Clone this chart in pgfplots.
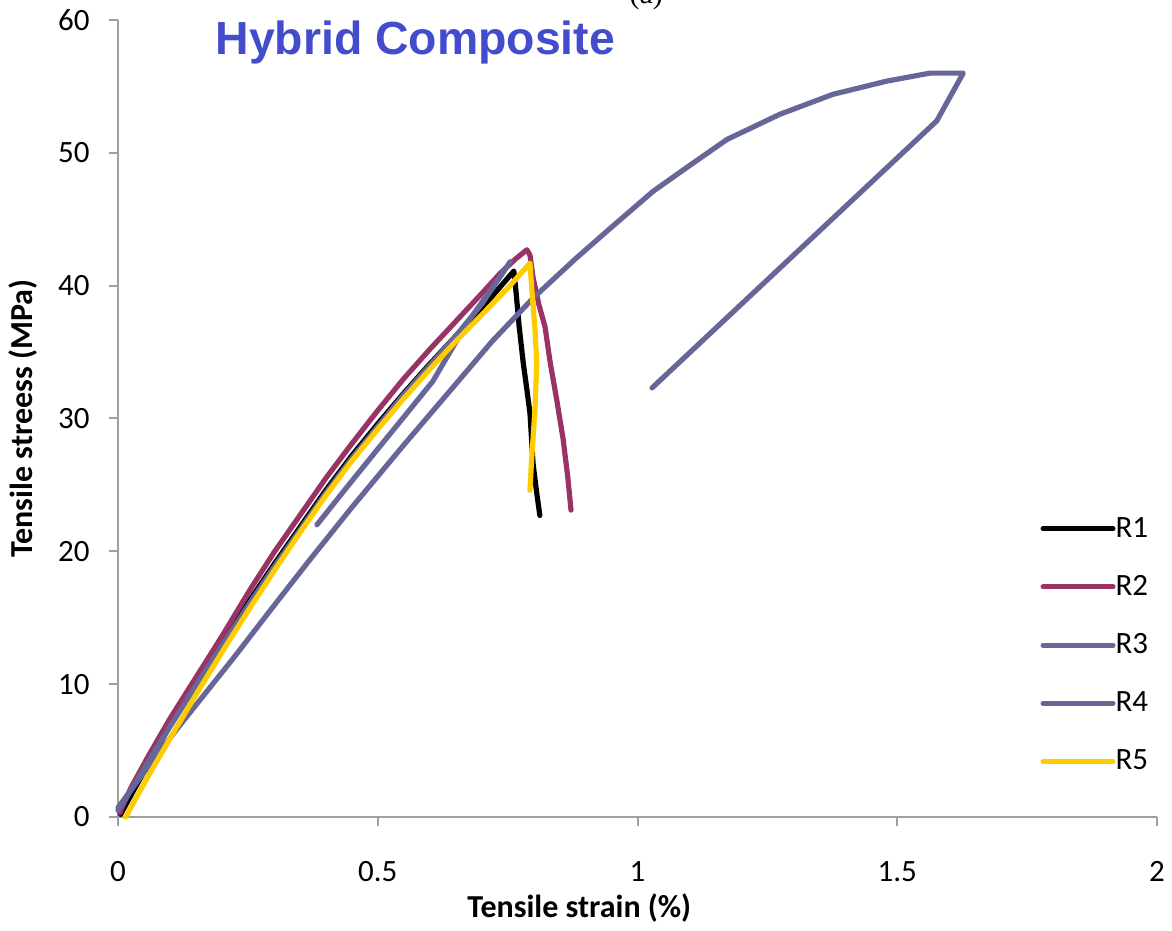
\documentclass[border=0pt]{standalone}
\usepackage{pgfplots}
\pgfplotsset{compat=1.18}
\usepackage{fontspec}
\setmainfont{Carlito}
\newfontfamily\arialfont{Liberation Sans}
\newfontfamily\timesfont{Liberation Serif}
\definecolor{cR2}{RGB}{153,51,102}
\definecolor{cR3}{RGB}{102,102,153}
\definecolor{cR5}{RGB}{255,204,0}
\definecolor{axgray}{RGB}{160,160,160}
\definecolor{titleblue}{RGB}{68,76,206}
\begin{document}
\begin{tikzpicture}
\begin{axis}[
  scale only axis,
  width=519.5pt, height=398.5pt,
  xmin=0, xmax=2, ymin=0, ymax=60,
  xtick={0,0.5,1,1.5,2},
  ytick={0,10,20,30,40,50,60},
  axis x line=bottom, axis y line=left,
  axis line style={-, draw=axgray, line width=1pt},
  tick style={draw=axgray, line width=1pt},
  tick align=outside,
  major tick length=4.5pt,
  /pgf/number format/assume math mode=true,
  ticklabel style={font=\fontsize{15.5}{18}\selectfont},
  xticklabel style={inner sep=0pt, anchor=north, yshift=-17.5pt},
  yticklabel style={inner sep=0pt, anchor=east, xshift=-9.5pt},
  clip=false,
  legend style={at={(axis cs:1.775,22.6)}, anchor=north west, draw=none, fill=none,
    inner sep=0pt, font=\fontsize{15.5}{18}\selectfont, row sep=17.6pt,
    nodes={inner sep=0pt}},
  legend cell align=left,
  /tikz/every even column/.append style={column sep=3.5pt},
  legend image code/.code={\draw[#1, line width=2.5pt, line cap=round] (0pt,0pt) -- (35pt,0pt);},
  every axis plot/.append style={line width=2.6pt, line join=round, line cap=round},
]
\addplot[black] coordinates {(0.005,0.2)(0.03,2.0)(0.06,4.1)(0.10,6.9)(0.15,10.1)(0.20,13.1)(0.25,16.1)(0.30,19.0)(0.35,21.8)(0.40,24.6)(0.45,27.2)(0.50,29.6)(0.55,31.9)(0.60,34.1)(0.65,36.2)(0.70,38.3)(0.74,40.1)(0.762,41.1)(0.766,39.6)(0.772,37.0)(0.780,34.2)(0.787,32.2)(0.793,30.4)(0.799,26.6)(0.806,24.4)(0.812,22.7)};
\addlegendentry{R1}
\addplot[cR2] coordinates {(0.003,0.3)(0.025,2.2)(0.06,4.7)(0.10,7.4)(0.15,10.5)(0.20,13.6)(0.254,17.1)(0.30,19.9)(0.35,22.7)(0.40,25.5)(0.45,28.1)(0.50,30.6)(0.55,33.0)(0.60,35.2)(0.65,37.3)(0.70,39.4)(0.735,40.9)(0.765,42.0)(0.787,42.7)(0.793,42.3)(0.799,40.6)(0.810,38.6)(0.822,36.9)(0.832,34.2)(0.845,31.3)(0.857,28.4)(0.866,25.5)(0.872,23.1)};
\addlegendentry{R2}
\addplot[cR3] coordinates {(0.0,0.5)(0.025,2.0)(0.06,4.3)(0.10,6.8)(0.15,9.9)(0.20,12.9)(0.25,15.9)(0.30,18.8)(0.35,21.6)(0.40,24.4)(0.45,27.0)(0.50,29.4)(0.55,31.8)(0.60,34.0)(0.65,36.2)(0.70,38.6)(0.755,41.8)(0.72,39.8)(0.672,37.2)(0.606,32.8)(0.55,30.1)(0.50,27.7)(0.44,24.8)(0.383,22.0)};
\addlegendentry{R3}
\addplot[cR3] coordinates {(0,0.7)(0.03,2.3)(0.07,4.4)(0.125,7.2)(0.221,11.9)(0.30,15.9)(0.37,19.4)(0.45,23.3)(0.55,28.0)(0.6526,32.7)(0.72,35.8)(0.80,39.1)(0.88,42.0)(0.947,44.3)(1.03,47.1)(1.095,48.9)(1.172,51.0)(1.274,52.9)(1.376,54.4)(1.48,55.4)(1.563,56.0)(1.627,56.0)(1.576,52.4)(1.028,32.3)};
\addlegendentry{R4}
\addplot[cR5] coordinates {(0.015,0.0)(0.03,1.1)(0.06,3.2)(0.10,5.9)(0.15,9.2)(0.20,12.4)(0.25,15.5)(0.30,18.5)(0.35,21.4)(0.40,24.2)(0.45,26.8)(0.50,29.2)(0.55,31.5)(0.60,33.7)(0.65,35.8)(0.70,37.8)(0.75,39.8)(0.793,41.7)(0.797,39.5)(0.803,36.5)(0.806,34.2)(0.803,31.0)(0.80,29.1)(0.796,26.8)(0.793,24.6)};
\addlegendentry{R5}
\coordinate (SW) at (rel axis cs:0,0);
\coordinate (NE) at (rel axis cs:1,1);
\coordinate (XL) at (rel axis cs:0.444,0);
\coordinate (YL) at (rel axis cs:0,0.5);
\coordinate (TT) at (axis cs:0.187,57.4);
\coordinate (AA) at (axis cs:1.017,61.25);
\end{axis}
\node[anchor=base west, inner sep=0pt, text=titleblue, font=\arialfont\bfseries\fontsize{23.2}{27}\selectfont] at (TT) {Hybrid Composite};
\node[anchor=base, inner sep=0pt, font=\timesfont\fontsize{15}{18}\selectfont] at (AA) {(a)};
\node[anchor=base, inner sep=0pt, font=\bfseries\fontsize{16}{19}\selectfont] at ([yshift=-50.5pt]XL) {Tensile strain (\%)};
\node[anchor=base, rotate=90, inner sep=0pt, font=\bfseries\fontsize{16}{19}\selectfont] at ([xshift=-42.5pt]YL) {Tensile streess (MPa)};
\pgfresetboundingbox
\useasboundingbox ([shift={(-59pt,-57pt)}]SW) rectangle ([shift={(7.5pt,10pt)}]NE);
\end{tikzpicture}
\end{document}
